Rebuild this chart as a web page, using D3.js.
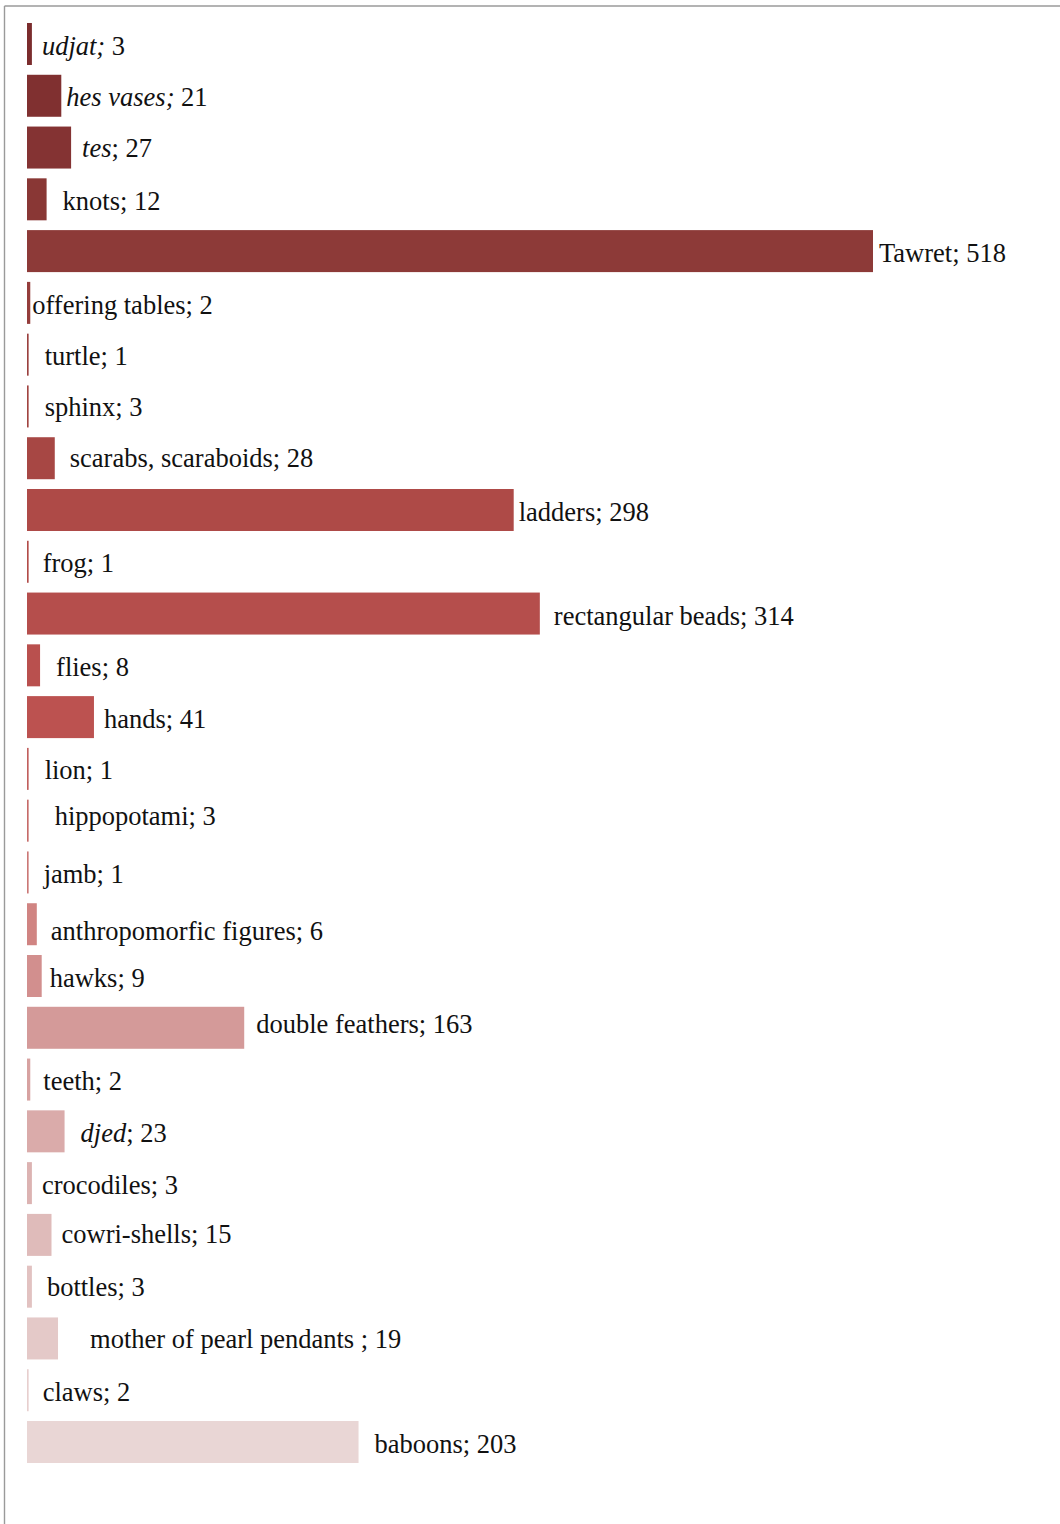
<!DOCTYPE html>
<html lang="en">
<head>
    <meta charset="UTF-8">
    <title>amulets</title>
    <style type="text/css">
        body{margin:0;background:#fff;}
        svg{display:block;}
        text{font-family:"Liberation Serif","Times New Roman",serif;font-size:26.5px;fill:#111;}
    </style>
    <script src="https://cdn.jsdelivr.net/npm/d3@7"></script>
</head>
<body>
<div id="draw"></div>
<script>
    // categories, top to bottom
    var names = ["udjat", "hes vases", "tes", "knots", "Tawret", "offering tables", "turtle", "sphinx",
        "scarabs, scaraboids", "ladders", "frog", "rectangular beads", "flies", "hands", "lion", "hippopotami",
        "jamb", "anthropomorfic figures", "hawks", "double feathers", "teeth", "djed", "crocodiles",
        "cowri-shells", "bottles", "mother of pearl pendants ", "claws", "baboons"];
    // counts as written in the labels
    var counts = [3, 21, 27, 12, 518, 2, 1, 3, 28, 298, 1, 314, 8, 41, 1, 3, 1, 6, 9, 163, 2, 23, 3, 15, 3, 19, 2, 203];
    // bar lengths as drawn (a few bars do not match their label)
    var barValues = [3, 21, 27, 12, 518, 2, 1, 1, 17, 298, 1, 314, 8, 41, 1, 1, 1, 6, 9, 133, 2, 23, 3, 15, 3, 19, 1, 203];
    // italic part of the label
    var italicPart = {"udjat": "udjat;", "hes vases": "hes vases;", "tes": "tes", "djed": "djed"};

    var w = 1060, h = 1524;
    var x0 = 27;
    // label placement tweaks (dx from bar end, dy from band centre)
    var labelDx = [10, 5, 11, 16, 6, 2, 16, 16, 15, 5, 14, 14, 16, 10, 16, 26, 15, 14, 8, 12, 13, 16, 10, 10, 15, 32, 14, 16];
    var labelDy = [1, 1, 0, 1, 1, 2, 1, 0, -1, 1, 1, 2, 1, 1, 1, -5, 1, 6, 1, -4, 1, 1, 1, -1, 0, 0, 1, 1];

    var rows = names.map(function(n, i){
        return {name: n, count: counts[i], value: barValues[i], i: i};
    });

    var x = d3.scaleLinear().domain([0, 518]).range([x0, 873]);
    var y = d3.scaleBand().domain(d3.range(names.length))
        .range([18.1, 1467.9]).paddingInner(0.189).paddingOuter(0.0945);
    var color = d3.scaleLinear()
        .domain([0, 4, 9, 13, 17, 19, 23, 27])
        .range(["#7b2c2d", "#8d3a38", "#ae4a47", "#bc5250", "#d08482", "#d49a99", "#dfbbba", "#e9d6d5"]);

    var svg = d3.select("#draw").append("svg")
        .attr("width", w)
        .attr("height", h);

    // frame
    svg.append("line").attr("x1", 4.5).attr("y1", 6).attr("x2", w).attr("y2", 6)
        .attr("stroke", "#9a9a9a").attr("stroke-width", 1.4);
    svg.append("line").attr("x1", 4.5).attr("y1", 6).attr("x2", 4.5).attr("y2", h)
        .attr("stroke", "#9a9a9a").attr("stroke-width", 1.4);

    var g = svg.selectAll("g.row")
        .data(rows)
        .enter()
        .append("g")
        .attr("class", "row");

    g.append("rect")
        .attr("x", x(0))
        .attr("y", function(d){ return y(d.i); })
        .attr("width", function(d){ return Math.max(1.5, x(d.value) - x(0)); })
        .attr("height", y.bandwidth())
        .attr("fill", function(d){ return color(d.i); });

    var t = g.append("text")
        .attr("x", function(d){ return Math.max(x(d.value), x(0) + 1.5) + labelDx[d.i]; })
        .attr("y", function(d){ return y(d.i) + y.bandwidth() / 2 + labelDy[d.i]; })
        .attr("dy", "0.36em");

    t.each(function(d){
        var full = d.name + "; " + d.count;
        var el = d3.select(this);
        var it = italicPart[d.name];
        if(it){
            el.append("tspan").attr("font-style", "italic").text(it);
            el.append("tspan").text(full.slice(it.length));
        }else{
            el.text(full);
        }
    });
</script>
</body>
</html>
